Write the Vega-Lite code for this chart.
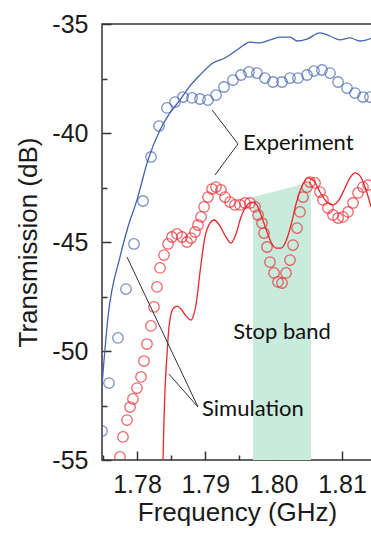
{
  "$schema": "https://vega.github.io/schema/vega-lite/v6.json",
  "width": 270,
  "height": 436,
  "autosize": "none",
  "padding": {"left": 102, "top": 24, "right": 0, "bottom": 73},
  "background": "white",
  "config": {"view": {"stroke": "#333", "strokeWidth": 1.5}},
  "datasets": {
    "blueSim": [
      {"f": 1.77488, "v": -51.56}, {"f": 1.77576, "v": -48.44}, {"f": 1.77751, "v": -45.69},
      {"f": 1.77868, "v": -44.31}, {"f": 1.78, "v": -43.07}, {"f": 1.78161, "v": -41.24},
      {"f": 1.78337, "v": -39.86}, {"f": 1.78483, "v": -39.08}, {"f": 1.78629, "v": -38.49},
      {"f": 1.78776, "v": -37.84}, {"f": 1.78922, "v": -37.34}, {"f": 1.79112, "v": -36.79},
      {"f": 1.79288, "v": -36.56}, {"f": 1.79463, "v": -36.19}, {"f": 1.79654, "v": -35.83},
      {"f": 1.798, "v": -35.87}, {"f": 1.79946, "v": -35.73}, {"f": 1.80093, "v": -35.6},
      {"f": 1.80239, "v": -35.6}, {"f": 1.80342, "v": -35.78}, {"f": 1.80488, "v": -35.69},
      {"f": 1.80678, "v": -35.41}, {"f": 1.80825, "v": -35.55}, {"f": 1.80971, "v": -35.73},
      {"f": 1.81117, "v": -35.64}, {"f": 1.81264, "v": -35.78}, {"f": 1.81439, "v": -35.64}
    ],
    "blueExp": [
      {"f": 1.77488, "v": -53.67}, {"f": 1.7759, "v": -51.47}, {"f": 1.77722, "v": -49.4},
      {"f": 1.77839, "v": -47.16}, {"f": 1.77956, "v": -45.09}, {"f": 1.78088, "v": -43.12},
      {"f": 1.78205, "v": -41.1}, {"f": 1.78322, "v": -39.68}, {"f": 1.78439, "v": -38.85},
      {"f": 1.78556, "v": -38.58}, {"f": 1.78673, "v": -38.35}, {"f": 1.78805, "v": -38.39},
      {"f": 1.78922, "v": -38.44}, {"f": 1.79039, "v": -38.49}, {"f": 1.79156, "v": -38.26},
      {"f": 1.79273, "v": -37.89}, {"f": 1.79405, "v": -37.57}, {"f": 1.79522, "v": -37.34},
      {"f": 1.79639, "v": -37.2}, {"f": 1.79756, "v": -37.25}, {"f": 1.79873, "v": -37.48},
      {"f": 1.7999, "v": -37.66}, {"f": 1.80122, "v": -37.66}, {"f": 1.80239, "v": -37.48},
      {"f": 1.80356, "v": -37.48}, {"f": 1.80488, "v": -37.34}, {"f": 1.8059, "v": -37.16},
      {"f": 1.80707, "v": -37.11}, {"f": 1.80825, "v": -37.25}, {"f": 1.80942, "v": -37.66},
      {"f": 1.81073, "v": -37.94}, {"f": 1.8119, "v": -38.17}, {"f": 1.81307, "v": -38.35},
      {"f": 1.8141, "v": -38.35}
    ],
    "redSim": [
      {"f": 1.78366, "v": -56.83}, {"f": 1.78381, "v": -55.0}, {"f": 1.78395, "v": -53.17},
      {"f": 1.7841, "v": -51.79}, {"f": 1.78439, "v": -50.18}, {"f": 1.78468, "v": -48.9},
      {"f": 1.78527, "v": -48.07}, {"f": 1.78585, "v": -47.94}, {"f": 1.78644, "v": -48.07},
      {"f": 1.78717, "v": -48.39}, {"f": 1.7879, "v": -48.58}, {"f": 1.78834, "v": -48.3},
      {"f": 1.78878, "v": -47.57}, {"f": 1.78922, "v": -46.38}, {"f": 1.78995, "v": -44.77},
      {"f": 1.79068, "v": -44.13}, {"f": 1.79127, "v": -43.99}, {"f": 1.79215, "v": -44.27},
      {"f": 1.79302, "v": -44.77}, {"f": 1.79376, "v": -45.05}, {"f": 1.79449, "v": -44.63},
      {"f": 1.79522, "v": -43.85}, {"f": 1.79595, "v": -43.39}, {"f": 1.79668, "v": -43.17},
      {"f": 1.79742, "v": -43.26}, {"f": 1.79815, "v": -43.76}, {"f": 1.79888, "v": -44.4},
      {"f": 1.79961, "v": -45.0}, {"f": 1.80034, "v": -45.28}, {"f": 1.80107, "v": -45.28},
      {"f": 1.80181, "v": -44.95}, {"f": 1.80254, "v": -44.22}, {"f": 1.80327, "v": -43.26},
      {"f": 1.80415, "v": -42.43}, {"f": 1.80503, "v": -42.06}, {"f": 1.8059, "v": -42.2},
      {"f": 1.80678, "v": -42.71}, {"f": 1.80766, "v": -43.12}, {"f": 1.80868, "v": -43.3},
      {"f": 1.80956, "v": -43.07}, {"f": 1.81044, "v": -42.52}, {"f": 1.81117, "v": -42.06},
      {"f": 1.8119, "v": -41.83}, {"f": 1.81264, "v": -41.97}, {"f": 1.81337, "v": -42.48},
      {"f": 1.81425, "v": -43.39}
    ],
    "redExp": [
      {"f": 1.77751, "v": -54.86}, {"f": 1.77795, "v": -53.94}, {"f": 1.77854, "v": -53.17},
      {"f": 1.77898, "v": -52.57}, {"f": 1.77941, "v": -52.2}, {"f": 1.78, "v": -51.7},
      {"f": 1.78059, "v": -51.19}, {"f": 1.78102, "v": -50.46}, {"f": 1.78146, "v": -49.68},
      {"f": 1.78205, "v": -48.85}, {"f": 1.78249, "v": -47.98}, {"f": 1.78293, "v": -47.06},
      {"f": 1.78337, "v": -46.19}, {"f": 1.78395, "v": -45.6}, {"f": 1.78454, "v": -45.09},
      {"f": 1.78512, "v": -44.77}, {"f": 1.78585, "v": -44.63}, {"f": 1.78659, "v": -44.77},
      {"f": 1.78732, "v": -45.0}, {"f": 1.7879, "v": -44.82}, {"f": 1.78849, "v": -44.54},
      {"f": 1.78893, "v": -44.22}, {"f": 1.78937, "v": -43.85}, {"f": 1.78981, "v": -43.39},
      {"f": 1.79039, "v": -42.94}, {"f": 1.79098, "v": -42.57}, {"f": 1.79156, "v": -42.48},
      {"f": 1.79229, "v": -42.61}, {"f": 1.79288, "v": -42.94}, {"f": 1.79361, "v": -43.17},
      {"f": 1.79434, "v": -43.3}, {"f": 1.79507, "v": -43.3}, {"f": 1.79581, "v": -43.21},
      {"f": 1.79654, "v": -43.21}, {"f": 1.79727, "v": -43.39}, {"f": 1.79771, "v": -43.76},
      {"f": 1.79829, "v": -44.13}, {"f": 1.79859, "v": -44.59}, {"f": 1.79903, "v": -45.23},
      {"f": 1.79946, "v": -45.92}, {"f": 1.80005, "v": -46.42}, {"f": 1.80064, "v": -46.83},
      {"f": 1.80122, "v": -46.88}, {"f": 1.80181, "v": -46.42}, {"f": 1.80239, "v": -45.83},
      {"f": 1.80283, "v": -45.14}, {"f": 1.80342, "v": -44.36}, {"f": 1.80385, "v": -43.62},
      {"f": 1.80429, "v": -42.94}, {"f": 1.80488, "v": -42.48}, {"f": 1.80532, "v": -42.25},
      {"f": 1.80605, "v": -42.29}, {"f": 1.80678, "v": -42.71}, {"f": 1.80722, "v": -43.07},
      {"f": 1.80795, "v": -43.44}, {"f": 1.80868, "v": -43.76}, {"f": 1.80942, "v": -43.9},
      {"f": 1.81015, "v": -43.85}, {"f": 1.81088, "v": -43.62}, {"f": 1.81161, "v": -43.21},
      {"f": 1.81234, "v": -42.75}, {"f": 1.81307, "v": -42.48}, {"f": 1.81381, "v": -42.39}
    ],
    "band": [
      {"f": 1.79698, "v": -42.94, "v2": -55},
      {"f": 1.80546, "v": -42.25, "v2": -55}
    ],
    "leaders": [
      {"f": 1.79098, "v": -38.94, "f2": 1.79478, "v2": -40.5},
      {"f": 1.79141, "v": -41.93, "f2": 1.79478, "v2": -40.5},
      {"f": 1.77854, "v": -45.69, "f2": 1.78893, "v2": -52.57},
      {"f": 1.78468, "v": -51.06, "f2": 1.78893, "v2": -52.57}
    ],
    "labels": [
      {"f": 1.79551, "v": -40.46, "t": "Experiment"},
      {"f": 1.78951, "v": -52.66, "t": "Simulation"}
    ],
    "center": [
      {"f": 1.80122, "v": -49.13, "t": "Stop band"}
    ]
  },
  "encoding": {
    "x": {
      "field": "f", "type": "quantitative",
      "scale": {"domain": [1.77488, 1.81439], "nice": false, "zero": false},
      "axis": {
        "title": "Frequency (GHz)",
        "values": [1.775, 1.78, 1.785, 1.79, 1.795, 1.8, 1.805, 1.81],
        "labelExpr": "round(datum.value*200) % 2 == 0 ? format(datum.value, '.2f') : ''",
        "labelFont": "Liberation Sans", "labelFontSize": 25, "labelColor": "#1a1a1a",
        "labelOverlap": false, "labelFlush": false,
        "tickSize": {"condition": {"test": "round(datum.value*200) % 2 == 0", "value": -9}, "value": -5},
        "tickColor": "#333", "tickWidth": 1.5,
        "labelPadding": 21,
        "domain": false, "grid": false,
        "titleFont": "Liberation Sans", "titleFontSize": 26, "titleFontWeight": "normal",
        "titleColor": "#1a1a1a", "titlePadding": -2
      }
    },
    "y": {
      "field": "v", "type": "quantitative",
      "scale": {"domain": [-55, -35], "nice": false, "zero": false},
      "axis": {
        "title": "Transmission (dB)",
        "values": [-55, -52.5, -50, -47.5, -45, -42.5, -40, -37.5, -35],
        "labelExpr": "datum.value % 5 == 0 ? '' + datum.value : ''",
        "labelFont": "Liberation Sans", "labelFontSize": 25, "labelColor": "#1a1a1a",
        "labelOverlap": false, "labelFlush": false,
        "tickSize": {"condition": {"test": "datum.value % 5 == 0", "value": -9}, "value": -5},
        "tickColor": "#333", "tickWidth": 1.5,
        "labelPadding": 23,
        "domain": false, "grid": false,
        "titleFont": "Liberation Sans", "titleFontSize": 26, "titleFontWeight": "normal",
        "titleColor": "#1a1a1a", "titlePadding": 10
      }
    }
  },
  "layer": [
    {
      "data": {"name": "band"},
      "mark": {"type": "area", "color": "#c9ebdc", "clip": true},
      "encoding": {"y2": {"field": "v2"}}
    },
    {
      "data": {"name": "blueSim"},
      "mark": {"type": "line", "color": "#4262ad", "strokeWidth": 1.3, "interpolate": "monotone", "clip": true}
    },
    {
      "data": {"name": "redSim"},
      "mark": {"type": "line", "color": "#e8262c", "strokeWidth": 1.3, "interpolate": "monotone", "clip": true}
    },
    {
      "data": {"name": "blueExp"},
      "mark": {"type": "point", "shape": "circle", "filled": false, "size": 110, "strokeWidth": 1.3, "color": "#4262ad", "clip": true}
    },
    {
      "data": {"name": "redExp"},
      "mark": {"type": "point", "shape": "circle", "filled": false, "size": 110, "strokeWidth": 1.3, "color": "#e8262c", "clip": true}
    },
    {
      "data": {"name": "leaders"},
      "mark": {"type": "rule", "color": "#333", "strokeWidth": 1},
      "encoding": {"x2": {"field": "f2"}, "y2": {"field": "v2"}}
    },
    {
      "data": {"name": "labels"},
      "mark": {"type": "text", "align": "left", "baseline": "middle", "font": "Lato", "fontSize": 22, "color": "#111"},
      "encoding": {"text": {"field": "t"}}
    },
    {
      "data": {"name": "center"},
      "mark": {"type": "text", "align": "center", "baseline": "middle", "font": "Lato", "fontSize": 22, "color": "#111"},
      "encoding": {"text": {"field": "t"}}
    }
  ]
}
